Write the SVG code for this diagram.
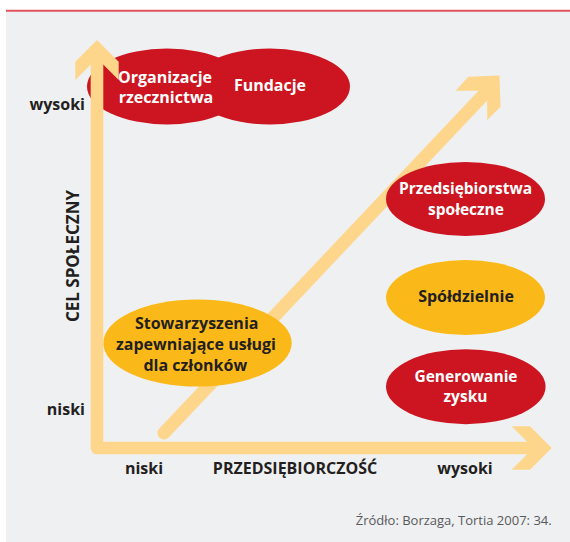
<svg xmlns="http://www.w3.org/2000/svg" width="570" height="542" viewBox="0 0 570 542">
  <defs>
    <style>
      .bg { fill: #eff0f2; }
      .red { fill: #cc1520; }
      .yel { fill: #fbb919; }
      .axis { fill: none; stroke: #fdd68c; stroke-width: 12.6; stroke-linejoin: round; }
      .head { fill: #fdd68c; }
      .nt { font-family: "Open Sans", "Noto Sans", sans-serif; font-weight: 700; font-size: 16px; text-anchor: middle; }
      .sm { font-size: 15.5px; }
      .w { fill: #ffffff; }
      .d { fill: #231f20; }
      .lbl { font-family: "Open Sans", "Noto Sans", sans-serif; font-weight: 700; font-size: 16px; fill: #231f20; }
      .src { font-family: "Open Sans", "Noto Sans", sans-serif; font-weight: 400; font-size: 13px; fill: #58595b; text-anchor: end; }
    </style>
  </defs>

  <rect x="0" y="0" width="570" height="542" fill="#ffffff"/>
  <rect class="bg" x="6" y="11" width="564" height="531"/>
  <line x1="6" y1="10.7" x2="570" y2="10.7" stroke="#e0535e" stroke-width="2"/>

  <g id="trend-arrow">
    <line x1="164" y1="433" x2="492" y2="86" stroke="#fdd68c" stroke-width="13" stroke-linecap="round"/>
    <polygon class="head" points="455.7,90.7 468.3,76.7 499.5,75.5 500.5,106.7 487.3,120 487,90.7"/>
  </g>

  <g id="node-organizacje">
    <ellipse class="red" cx="167" cy="86.5" rx="80" ry="38"/>
  </g>
  <g id="node-fundacje">
    <ellipse class="red" cx="270" cy="86.5" rx="80" ry="38"/>
    <text class="nt w" x="270" y="91">Fundacje</text>
  </g>
  <g id="node-organizacje-text">
    <text class="nt w" x="165" y="83.3">Organizacje</text>
    <text class="nt w" x="166" y="103.3">rzecznictwa</text>
  </g>

  <g id="node-przedsiebiorstwa">
    <ellipse class="red" cx="465.5" cy="199" rx="79.5" ry="37"/>
    <text class="nt sm w" x="465.5" y="194">Przedsiębiorstwa</text>
    <text class="nt sm w" x="466" y="214.5">społeczne</text>
  </g>

  <g id="node-spoldzielnie">
    <ellipse class="yel" cx="465.5" cy="297.5" rx="79.5" ry="37.5"/>
    <text class="nt d" x="466" y="301.7">Spółdzielnie</text>
  </g>

  <g id="node-generowanie">
    <ellipse class="red" cx="465.8" cy="386.7" rx="79.8" ry="37.5"/>
    <text class="nt sm w" x="466" y="381.5">Generowanie</text>
    <text class="nt sm w" x="465.5" y="402">zysku</text>
  </g>

  <g id="node-stowarzyszenia">
    <ellipse class="yel" cx="197.5" cy="343" rx="94.2" ry="43.5"/>
    <text class="nt d" x="196.7" y="329.3">Stowarzyszenia</text>
    <text class="nt d" x="196" y="350">zapewniające usługi</text>
    <text class="nt d" x="195.3" y="371">dla członków</text>
  </g>

  <g id="connectors">
    <path class="axis" d="M97,52 L97,448 L536,448"/>
    <polygon class="head" points="97,40 118.7,61.7 118.7,80 97,58.3 75.3,80 75.3,61.7"/>
    <polygon class="head" points="511.7,426.3 530,426.3 551.7,448 530,469.7 511.7,469.7 533.4,448"/>
  </g>

  <g id="labels">
    <text class="lbl" x="85" y="110" text-anchor="end">wysoki</text>
    <text class="lbl" x="85" y="415" text-anchor="end">niski</text>
    <text class="lbl" x="144" y="473.5" text-anchor="middle">niski</text>
    <text class="lbl" x="295" y="474" text-anchor="middle">PRZEDSIĘBIORCZOŚĆ</text>
    <text class="lbl" x="465" y="474" text-anchor="middle">wysoki</text>
    <text class="lbl" transform="translate(79.3,256) rotate(-90)" x="0" y="0" text-anchor="middle" style="font-size:17px">CEL SPOŁECZNY</text>
    <text class="src" x="551.7" y="525">Źródło: Borzaga, Tortia 2007: 34.</text>
  </g>
</svg>
